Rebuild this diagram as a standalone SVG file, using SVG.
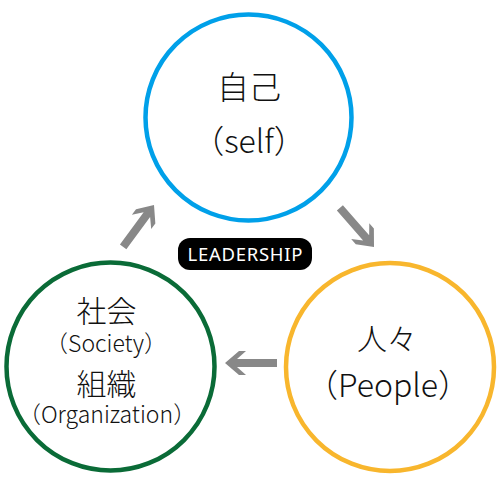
<svg xmlns="http://www.w3.org/2000/svg" width="500" height="500" viewBox="0 0 500 500">
<style>
  .ring { fill: #ffffff; stroke-width: 4.5; }
  .jp { font-family: "Noto Sans CJK JP", "Noto Sans", sans-serif; font-weight: 300; fill: #111111; text-anchor: middle; }
  .arrow { fill: #888888; }
  .badge-text { font-family: "Noto Sans", "Liberation Sans", sans-serif; fill: #ffffff; text-anchor: middle; font-size: 18.5px; }
</style>
<defs>
  <polygon id="arr" points="0,0 -14,-12 -21,-12 -12,-4 -52,-4 -52,4 -12,4 -21,12 -14,12"/>
</defs>
<rect width="500" height="500" fill="#ffffff"/>
<g id="connectors">
  <use href="#arr" class="arrow" transform="translate(154,205) rotate(-53.6)"/>
  <use href="#arr" class="arrow" transform="translate(374,247) rotate(49)"/>
  <use href="#arr" class="arrow" transform="translate(225,363) rotate(180)"/>
</g>
<g id="self">
  <circle class="ring" cx="248.5" cy="117.5" r="103" stroke="#00a0e9"/>
  <text class="jp" x="249" y="99" font-size="32">自己</text>
  <text class="jp" x="249" y="153" font-size="32">（self）</text>
</g>
<g id="people">
  <circle class="ring" cx="390" cy="367" r="104" stroke="#f8b62d"/>
  <text class="jp" x="387" y="350" font-size="30">人々</text>
  <text class="jp" x="388" y="397" font-size="32">（People）</text>
</g>
<g id="society">
  <circle class="ring" cx="110.5" cy="366.5" r="104" stroke="#0a6b37"/>
  <text class="jp" x="106.5" y="322" font-size="30">社会</text>
  <text class="jp" x="106" y="352" font-size="23">（Society）</text>
  <text class="jp" x="106.5" y="395" font-size="30">組織</text>
  <text class="jp" x="107" y="423" font-size="23">（Organization）</text>
</g>
<g id="leadership">
  <rect x="178" y="238" width="134" height="32" rx="12" fill="#000000"/>
  <text class="badge-text" x="245" y="261" textLength="115" lengthAdjust="spacing">LEADERSHIP</text>
</g>
</svg>
